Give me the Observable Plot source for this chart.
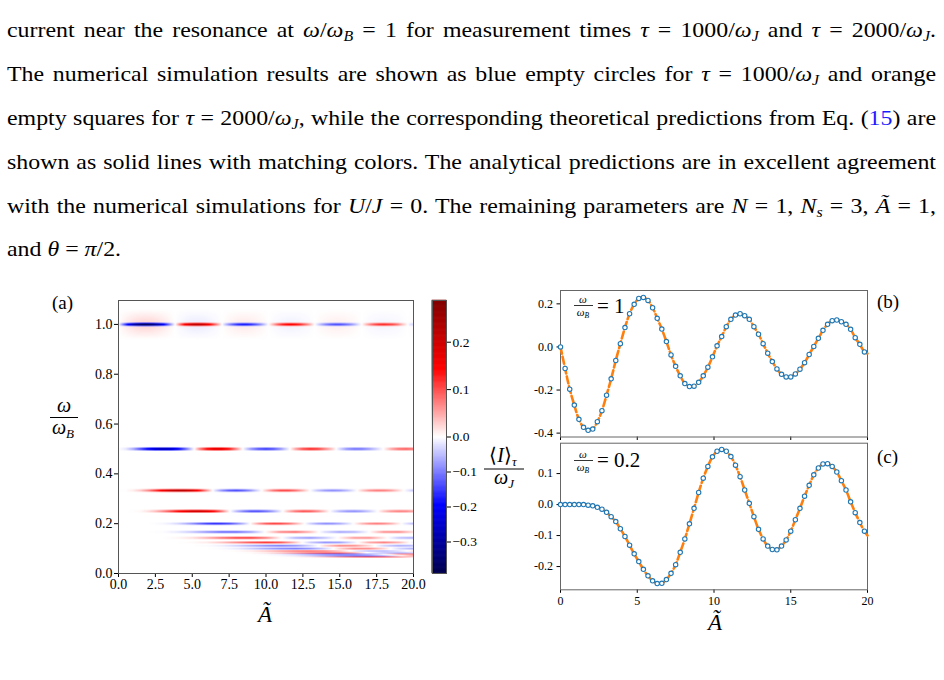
<!DOCTYPE html>
<html>
<head>
<meta charset="utf-8">
<script src="https://cdn.jsdelivr.net/npm/d3@7"></script>
<script src="https://cdn.jsdelivr.net/npm/@observablehq/plot@0.6"></script>
<style>
  body { margin: 0; background: #fff; }
  #page { position: relative; width: 944px; height: 680px; overflow: hidden; background: #fff;
          font-family: "Liberation Serif", "Times New Roman", serif; color: #000; }
  .line { position: absolute; left: 7px; width: 929px; font-size: 21px; line-height: 21px;
          text-align: justify; text-align-last: justify; white-space: normal; transform-origin: 0 0; }
  .line.last { text-align-last: left; }
  .line sub { font-size: 14px; vertical-align: -4px; line-height: 0; }
  .ref { color: #1a1aff; }
  #labels { position: absolute; left: 0; top: 0; pointer-events: none; }
</style>
</head>
<body>
<div id="page">
  <div class="line" style="top:20px">current near the resonance at <i>ω</i>/<i>ω</i><sub><i>B</i></sub> = 1 for measurement times <i>τ</i> = 1000/<i>ω</i><sub><i>J</i></sub> and <i>τ</i> = 2000/<i>ω</i><sub><i>J</i></sub>.</div>
  <div class="line" style="top:64px">The numerical simulation results are shown as blue empty circles for <i>τ</i> = 1000/<i>ω</i><sub><i>J</i></sub> and orange</div>
  <div class="line" style="top:107.5px">empty squares for <i>τ</i> = 2000/<i>ω</i><sub><i>J</i></sub>, while the corresponding theoretical predictions from Eq. (<span class="ref">15</span>) are</div>
  <div class="line" style="top:151.5px">shown as solid lines with matching colors. The analytical predictions are in excellent agreement</div>
  <div class="line" style="top:195.5px">with the numerical simulations for <i>U</i>/<i>J</i> = 0. The remaining parameters are <i>N</i> = 1, <i>N</i><sub><i>s</i></sub> = 3, <i>Ã</i> = 1,</div>
  <div class="line last" style="top:239px">and <i>θ</i> = <i>π</i>/2.</div>

  <svg id="labels" width="944" height="680" font-family="Liberation Serif, Times New Roman, serif">
    <text x="52" y="309" font-size="19">(a)</text>
    <g font-style="italic" font-size="20" text-anchor="middle">
      <text x="64" y="412">ω</text>
      <text x="63" y="434">ω<tspan font-size="13" dy="4">B</tspan></text>
      <text x="265" y="622" font-size="23">Ã</text>
      <text x="715" y="630" font-size="23">Ã</text>
    </g>
    <line x1="50" x2="78" y1="417.5" y2="417.5" stroke="#000" stroke-width="1"/>

    <text x="503" y="462" font-size="20" text-anchor="middle">⟨<tspan font-style="italic">I</tspan>⟩<tspan font-size="13" font-style="italic" dy="4">τ</tspan></text>
    <line x1="484" x2="524" y1="469" y2="469" stroke="#000" stroke-width="1"/>
    <text x="504" y="484" font-size="20" font-style="italic" text-anchor="middle">ω<tspan font-size="13" dy="4">J</tspan></text>

    <text x="877" y="308" font-size="19">(b)</text>
    <text x="877" y="463" font-size="19">(c)</text>

    <g font-style="italic" font-size="11" text-anchor="middle">
      <text x="583" y="302.5">ω</text>
      <text x="583" y="316">ω<tspan font-size="7.5" dy="2">B</tspan></text>
      <text x="583" y="457.5">ω</text>
      <text x="583" y="471">ω<tspan font-size="7.5" dy="2">B</tspan></text>
    </g>
    <line x1="574" x2="593" y1="305.5" y2="305.5" stroke="#000" stroke-width="0.8"/>
    <line x1="574" x2="593" y1="460.5" y2="460.5" stroke="#000" stroke-width="0.8"/>
    <text x="597" y="313" font-size="21">= 1</text>
    <text x="597" y="467" font-size="21">= 0.2</text>
  </svg>
</div>

<script>
// ---- sampling grids (driving amplitude Ã) ----
const aSim = d3.range(67).map(i => +(i * 0.3).toFixed(1));   // simulation points, step 0.3
const aFine = d3.range(41).map(i => i * 0.5);                 // heat-map band samples, step 0.5
const aCoarse = d3.range(21);                                 // heat-map band samples, step 1

// ---- (b) ω/ω_B = 1 : simulated current ⟨I⟩_τ/ω_J ----
const bSim = [0.000, -0.100, -0.196, -0.270, -0.336, -0.373, -0.387, -0.381, -0.347, -0.296,
  -0.224, -0.148, -0.063, 0.015, 0.090, 0.154, 0.198, 0.225, 0.230, 0.216,
  0.182, 0.133, 0.083, 0.025, -0.037, -0.090, -0.134, -0.170, -0.184, -0.182,
  -0.164, -0.134, -0.094, -0.046, 0.005, 0.048, 0.094, 0.128, 0.148, 0.154,
  0.145, 0.128, 0.094, 0.059, 0.015, -0.029, -0.068, -0.102, -0.127, -0.139,
  -0.139, -0.125, -0.103, -0.073, -0.035, 0.002, 0.040, 0.077, 0.105, 0.122,
  0.125, 0.117, 0.105, 0.082, 0.043, 0.012, -0.023];
const bTheoryEnd = [20, -0.030];

// ---- (c) ω/ω_B = 0.2 ----
const cSim = [0, 0, 0, 0, 0, 0, -0.002, -0.004, -0.009, -0.015,
  -0.025, -0.039, -0.055, -0.078, -0.103, -0.131, -0.159, -0.184, -0.209, -0.230,
  -0.246, -0.255, -0.254, -0.242, -0.222, -0.194, -0.154, -0.111, -0.062, -0.012,
  0.039, 0.085, 0.123, 0.154, 0.172, 0.178, 0.172, 0.155, 0.127, 0.090,
  0.047, 0.004, -0.039, -0.080, -0.111, -0.134, -0.145, -0.146, -0.134, -0.114,
  -0.086, -0.049, -0.012, 0.027, 0.062, 0.096, 0.118, 0.131, 0.132, 0.123,
  0.105, 0.077, 0.047, 0.009, -0.026, -0.058, -0.086];
const cTheoryEnd = [20, -0.100];

// ---- (a) resonance bands ω/ω_B = 1/n ----
const bandOmega = [1.0, 0.5, 0.3333, 0.25, 0.2, 0.1667, 0.1429, 0.125, 0.1111, 0.1, 0.0909, 0.0833, 0.0769, 0.0714, 0.0667];
const resonance2 = [0, -0.018, -0.066, -0.135, -0.204, -0.258, -0.282, -0.266, -0.212, -0.126,
  -0.027, 0.070, 0.141, 0.178, 0.176, 0.135, 0.065, -0.011, -0.083, -0.130,
  -0.148, -0.130, -0.081, -0.016, 0.050, 0.100, 0.121, 0.110, 0.070, 0.030,
  -0.030, -0.083, -0.104, -0.100, -0.072, -0.035, 0.004, 0.050, 0.080, 0.088, 0.075];
const resonance3 = [0, 0.001, 0.010, 0.030, 0.064, 0.108, 0.155, 0.195, 0.215, 0.214,
  0.182, 0.128, 0.057, -0.016, -0.080, -0.121, -0.134, -0.115, -0.074, -0.020,
  0.029, 0.076, 0.100, 0.100, 0.078, 0.040, -0.001, -0.043, -0.072, -0.085,
  -0.076, -0.050, -0.013, 0.026, 0.058, 0.071, 0.069, 0.052, 0.022, -0.010, -0.041];
const resonance4 = [0, 0, 0.001, 0.004, 0.017, 0.037, 0.066, 0.101, 0.141, 0.170,
  0.196, 0.198, 0.179, 0.140, 0.079, 0.008, -0.053, -0.100, -0.133, -0.134,
  -0.110, -0.070, -0.014, 0.038, 0.078, 0.098, 0.093, 0.067, 0.028, -0.015,
  -0.055, -0.078, -0.085, -0.070, -0.040, -0.005, 0.032, 0.060, 0.072, 0.068, 0.050];
const resonance5 = [0, 0, 0, 0, 0, -0.002, -0.006, -0.015, -0.030, -0.055,
  -0.085, -0.120, -0.150, -0.165, -0.160, -0.140, -0.100, -0.050, 0.008, 0.058,
  0.095, 0.110, 0.105, 0.085, 0.050, 0.010, -0.035, -0.070, -0.088, -0.085,
  -0.065, -0.033, 0.005, 0.040, 0.066, 0.076, 0.068, 0.045, 0.012, -0.022, -0.050];
const resonance6 = [0, 0, 0, -0.002, -0.019, -0.050, -0.093, -0.129, -0.128, -0.081, 0.005, 0.077, 0.093, 0.045, -0.031, -0.078, -0.063, 0.000, 0.071, 0.076, 0.021];
const resonance7 = [0, 0, 0, 0, 0.005, 0.020, 0.050, 0.090, 0.122, 0.125, 0.082, 0.005, -0.065, -0.090, -0.050, 0.010, 0.065, 0.070, 0.015, -0.050, -0.070];
const resonance8 = [0, 0, 0, 0, 0, 0.003, 0.012, 0.035, 0.068, 0.100, 0.118, 0.100, 0.035, -0.040, -0.085, -0.075, -0.015, 0.050, 0.075, 0.045, -0.015];
const resonance9 = [0, 0, 0, 0, 0, 0, -0.003, -0.015, -0.040, -0.072, -0.103, -0.118, -0.098, -0.040, 0.030, 0.080, 0.075, 0.025, -0.040, -0.075, -0.060];
const resonance10 = [0, 0, 0, 0, 0, 0, 0, -0.004, -0.018, -0.045, -0.078, -0.105, -0.118, -0.095, -0.040, 0.030, 0.078, 0.075, 0.028, -0.035, -0.072];
const resonance11 = [0, 0, 0, 0, 0, 0, 0, 0, 0.004, 0.018, 0.045, 0.078, 0.105, 0.117, 0.100, 0.048, -0.020, -0.072, -0.078, -0.035, 0.025];
const resonance12 = [0, 0, 0, 0, 0, 0, 0, 0, 0, 0.004, 0.018, 0.044, 0.076, 0.103, 0.116, 0.103, 0.058, -0.010, -0.065, -0.078, -0.045];
const resonance13 = [0, 0, 0, 0, 0, 0, 0, 0, 0, 0, -0.004, -0.017, -0.042, -0.074, -0.100, -0.115, -0.105, -0.065, 0.000, 0.058, 0.078];
const resonance14 = [0, 0, 0, 0, 0, 0, 0, 0, 0, 0, 0, -0.004, -0.016, -0.040, -0.072, -0.098, -0.113, -0.106, -0.072, -0.012, 0.050];
const resonance15 = [0, 0, 0, 0, 0, 0, 0, 0, 0, 0, 0, 0, 0.004, 0.015, 0.038, 0.070, 0.096, 0.112, 0.108, 0.078, 0.025];

// ---- tick values ----
const heatXTicks = [0, 2.5, 5, 7.5, 10, 12.5, 15, 17.5, 20];
const heatYTicks = [0, 0.2, 0.4, 0.6, 0.8, 1.0];
const colorTicks = [-0.3, -0.2, -0.1, 0, 0.1, 0.2];
const lineXTicks = [0, 5, 10, 15, 20];
const bYTicks = [-0.4, -0.2, 0, 0.2];
const cYTicks = [-0.2, -0.1, 0, 0.1];
const colorLimits = [-0.39, 0.288];

// ---- justify the paragraph with a slightly wider set width ----
(function fitParagraph() {
  const lines = [...document.querySelectorAll(".line")];
  let widest = 0;
  for (const el of lines) {
    if (el.classList.contains("last")) continue;
    el.style.textAlign = "left";
    el.style.textAlignLast = "left";
    el.style.whiteSpace = "nowrap";
    el.style.width = "auto";
    const probe = document.createElement("span");
    while (el.firstChild) probe.appendChild(el.firstChild);
    el.appendChild(probe);
    widest = Math.max(widest, probe.getBoundingClientRect().width);
    while (probe.firstChild) el.appendChild(probe.firstChild);
    el.removeChild(probe);
    el.style.textAlign = "";
    el.style.textAlignLast = "";
    el.style.whiteSpace = "";
  }
  const k = 929 / (widest + 6);
  for (const el of lines) {
    el.style.width = (929 / k) + "px";
    el.style.transform = `scaleX(${k})`;
  }
})();

// ---- assembled series ----
const bTheory = aSim.map((a, i) => ({a, v: bSim[i]})).concat([{a: bTheoryEnd[0], v: bTheoryEnd[1]}]);
const cTheory = aSim.map((a, i) => ({a, v: cSim[i]})).concat([{a: cTheoryEnd[0], v: cTheoryEnd[1]}]);
const bPoints = aSim.map((a, i) => ({a, v: bSim[i]}));
const cPoints = aSim.map((a, i) => ({a, v: cSim[i]}));

const bandSamples = [
  [bTheory.map(d => d.a), bTheory.map(d => d.v)],
  [aFine, resonance2], [aFine, resonance3], [aFine, resonance4], [aFine, resonance5],
  [aCoarse, resonance6], [aCoarse, resonance7], [aCoarse, resonance8], [aCoarse, resonance9],
  [aCoarse, resonance10], [aCoarse, resonance11], [aCoarse, resonance12], [aCoarse, resonance13],
  [aCoarse, resonance14], [aCoarse, resonance15]
];

// band half-thickness in ω
const bandHalf = bandOmega.map((w, k) => {
  if (k < 2) return 0.008;
  if (k < 4) return 0.007;
  if (k < 5) return 0.006;
  const gap = d3.min(bandOmega.filter((_, j) => j !== k).map(o => Math.abs(o - w)));
  return Math.max(0.0035, Math.min(0.0055, 0.45 * gap));
});

// value of band k at Ã = x, linear between its samples
function bandAt(k, x) {
  const [as, vs] = bandSamples[k];
  let i = d3.bisectRight(as, x) - 1;
  i = Math.max(0, Math.min(as.length - 2, i));
  const t = Math.max(0, Math.min(1, (x - as[i]) / (as[i + 1] - as[i])));
  return vs[i] * (1 - t) + vs[i + 1] * t;
}

// current at (Ã, ω): thin resonance lines with a flat core, plus a faint
// opposite-signed skirt round ω = 1
function current(x, y) {
  let s = 0;
  for (let k = 0; k < bandOmega.length; k++) {
    const d = Math.abs(y - bandOmega[k]);
    if (d < bandHalf[k]) s += bandAt(k, x) * Math.min(1, 1.6 * (1 - d / bandHalf[k]));
    if (k === 0 && d < 0.06) s -= 0.07 * bandAt(k, x) * (1 - d / 0.06);
  }
  return s;
}

const colorScale = {
  type: "linear",
  domain: [colorLimits[0], colorLimits[0] / 2, 0, colorLimits[1] / 2, colorLimits[1]],
  range: ["#00004c", "#0000ff", "#ffffff", "#ff0000", "#800000"],
  interpolate: "rgb",
  clamp: true
};

const serif = "Liberation Serif, Times New Roman, serif";
const fmt1 = d3.format(".1f");
const fmtHyphen = d => fmt1(d).replace("\u2212", "-");
const page = document.getElementById("page");
const labels = document.getElementById("labels");
function place(node, left, top) {
  node.style.position = "absolute";
  node.style.left = left + "px";
  node.style.top = top + "px";
  page.insertBefore(node, labels);
}

// ---- (a) heat map ----
const heat = Plot.plot({
  width: 480, height: 345,
  marginLeft: 118, marginRight: 67, marginTop: 20, marginBottom: 52,
  style: {fontFamily: serif, fontSize: "14px", color: "#000", background: "transparent", overflow: "visible"},
  x: {domain: [0, 20], ticks: heatXTicks, tickFormat: fmt1, tickSize: 4, tickPadding: 2, label: null},
  y: {domain: [0, 1.096], ticks: heatYTicks, tickFormat: fmt1, tickSize: 4, tickPadding: 2, label: null},
  color: colorScale,
  marks: [
    Plot.raster({x1: 0, x2: 20, y1: 0, y2: 1.096, fill: current}),
    Plot.frame({stroke: "#555"})
  ]
});
place(heat, 0, 280);

// ---- colour bar (two-slope: zero sits mid-bar) ----
const toT = v => v < 0 ? 0.5 * (v - colorLimits[0]) / -colorLimits[0] : 0.5 + 0.5 * v / colorLimits[1];
const fromT = t => t < 0.5 ? colorLimits[0] * (1 - 2 * t) : colorLimits[1] * (2 * t - 1);
const step = 0.002;
const ramp = d3.range(0, 1, step).map(t => ({t0: t, t1: Math.min(1, t + step), v: fromT(t + step / 2)}));
const bar = Plot.plot({
  width: 70, height: 320,
  marginLeft: 12, marginRight: 44, marginTop: 20, marginBottom: 27,
  style: {fontFamily: serif, fontSize: "13.5px", color: "#000", background: "transparent", overflow: "visible"},
  x: {domain: [0, 1], axis: null},
  y: {domain: [0, 1], axis: "right", ticks: colorTicks.map(toT),
      tickFormat: t => fmt1(Math.round(fromT(t) * 10) / 10), tickSize: 4, tickPadding: 2, label: null},
  color: colorScale,
  marks: [
    Plot.rect(ramp, {x1: 0, x2: 1, y1: "t0", y2: "t1", fill: "v", inset: -0.3}),
    Plot.frame({stroke: "#555"})
  ]
});
place(bar, 420, 280);

// ---- (b) and (c) line panels ----
function panel(points, theory, yDomain, yTicks, showX, h, mt, mb) {
  return Plot.plot({
    width: 400, height: h,
    marginLeft: 60, marginRight: 33, marginTop: mt, marginBottom: mb,
    style: {fontFamily: serif, fontSize: "12px", color: "#000", background: "transparent", overflow: "visible"},
    x: {domain: [0, 20], ticks: lineXTicks, tickFormat: showX ? d3.format("d") : () => "", tickSize: 3.5, tickPadding: 3, label: null},
    y: {domain: yDomain, ticks: yTicks, tickFormat: fmtHyphen, tickSize: 3.5, tickPadding: 4, label: null},
    marks: [
      Plot.frame({stroke: "#666"}),
      Plot.line(theory, {x: "a", y: "v", stroke: "#ff7f0e", strokeWidth: 2.6, strokeDasharray: "7,3", curve: "catmull-rom"}),
      Plot.dot(points, {x: "a", y: "v", r: 2.2, stroke: "#1f77b4", strokeWidth: 1.1, fill: "white"})
    ]
  });
}
place(panel(bPoints, bTheory, [-0.418, 0.262], bYTicks, false, 165, 10, 8.5), 500, 280);
place(panel(cPoints, cTheory, [-0.275, 0.198], cYTicks, true, 200, 7.7, 45.7), 500, 435);
</script>
</body>
</html>
